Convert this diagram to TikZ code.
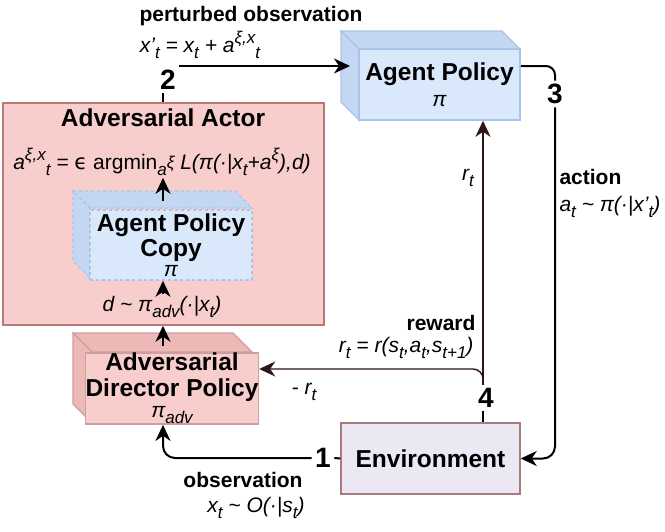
\documentclass[tikz,border=0pt]{standalone}
\usepackage{fontspec}
\setmainfont{Liberation Sans}
\newfontfamily\dvs{DejaVu Sans}
\usetikzlibrary{arrows.meta,calc}

\newcommand{\lbl}{\fontsize{21}{25}\selectfont}
\newcommand{\ttl}{\fontsize{24.5}{22}\selectfont\bfseries}
\newcommand{\numf}{\fontsize{28}{28}\selectfont\bfseries}
\newcommand{\sbs}[1]{\raisebox{-0.3em}{\fontsize{17}{17}\selectfont #1}}
\newcommand{\sps}[1]{\raisebox{0.4em}{\fontsize{17}{17}\selectfont #1}}

\definecolor{redfill}{HTML}{F8CECC}
\definecolor{redside}{HTML}{EDB9B7}
\definecolor{redline}{HTML}{B87878}
\definecolor{bluefill}{HTML}{DAE8FC}
\definecolor{blueside}{HTML}{C3D6F2}
\definecolor{blueline}{HTML}{A9C4EB}
\definecolor{envfill}{HTML}{EBE8F3}
\definecolor{envline}{HTML}{A67C7C}
\definecolor{rewcol}{HTML}{2E1616}

\tikzset{
  ln/.style={line width=2pt, black},
  arr/.style={ln, -{Stealth[length=16pt,width=15pt,inset=5pt]}},
  rewarr/.style={line width=1.4pt, rewcol, -{Stealth[length=16pt,width=15pt,inset=5pt]}},
  front/.style={rectangle, inner sep=0pt, align=center},
}

\begin{document}
\begin{tikzpicture}[x=1pt,y=-1pt]
\useasboundingbox (0,0) rectangle (665,531);
\fill[white] (0,0) rectangle (665,531);

% Adversarial Actor container
\node[front, draw=redline, fill=redfill, line width=1.5pt, minimum width=321pt, minimum height=222pt] (actor) at (163.5,214) {};
\node[font=\ttl] (acttitle) at (163,118) {Adversarial Actor};
\node[font=\lbl\itshape, inner sep=2pt] (formula) at (162,162) {a\sps{ξ,x}\sbs{t} = \textup{{\dvs ϵ} argmin}\sbs{a\sps{ξ}} L(π(·|x\sbs{t}+a\sps{ξ}),d)};

% Agent Policy cube
\fill[blueside, draw=blueline, line width=1.2pt] (359,49) -- (341,31) -- (502,31) -- (520,49) -- cycle;
\fill[blueside, draw=blueline, line width=1.2pt] (359,49) -- (341,31) -- (341,102) -- (359,120) -- cycle;
\node[front, draw=blueline, fill=bluefill, line width=1.5pt, minimum width=161pt, minimum height=71pt, font=\lbl] (agent) at (439.5,84.5) {{\ttl Agent Policy}\\[1pt]{\itshape π}};

% Agent Policy Copy cube (dashed)
\fill[blueside, draw=blueline, line width=1.2pt, dashed] (90,208) -- (73,191) -- (235,191) -- (252,208) -- cycle;
\fill[blueside, draw=blueline, line width=1.2pt, dashed] (90,208) -- (73,191) -- (73,261) -- (90,278) -- cycle;
\node[front, draw=blueline, fill=bluefill, line width=1.5pt, dashed, minimum width=162pt, minimum height=70pt, font=\lbl] (copy) at (171,245) {{\ttl Agent Policy}\\{\ttl Copy}\\[-5pt]{\itshape π}};

% Adversarial Director Policy cube
\fill[redside, draw=redline!70, line width=1.2pt] (92,352) -- (73,333) -- (233,333) -- (252,352) -- cycle;
\fill[redside, draw=redline!70, line width=1.2pt] (92,352) -- (73,333) -- (73,404) -- (92,423) -- cycle;
\node[front, draw=redline!70, fill=redfill, line width=1.5pt, minimum width=160pt, minimum height=71pt, font=\lbl] (dir) at (172,388.5) {{\ttl Adversarial}\\[1pt]{\ttl Director Policy}\\[-4pt]{\itshape π\sbs{adv}}};

% Environment
\node[front, draw=envline, fill=envfill, line width=1.5pt, minimum width=179pt, minimum height=71pt, font=\ttl] (env) at (430.5,458.5) {Environment};

% numbers
\node[font=\numf] (two) at (168,80) {2};
\node[font=\numf] (three) at (555,94) {3};
\node[font=\numf] (four) at (486,398) {4};
\node[font=\numf] (one) at (323,458) {1};

% labels
\node[font=\lbl\bfseries] (pertl) at (251,16) {perturbed observation};
\node[font=\lbl\itshape] (pertf) at (200,45) {x'\sbs{t} = x\sbs{t} + a\sps{ξ,x}\sbs{t}};
\node[font=\lbl\bfseries, anchor=east] (rewl) at (479,323) {reward};
\node[font=\lbl\itshape, anchor=east] (rewf) at (477,348) {r\sbs{t} = r(s\sbs{t},a\sbs{t},s\sbs{t+1})};
\node[font=\lbl\itshape] (negr) at (304,392) {- r\sbs{t}};
\node[font=\lbl\itshape] (rtl) at (468,178) {r\sbs{t}};
\node[font=\lbl\bfseries, anchor=west] (actl) at (556,177) {action};
\node[font=\lbl\itshape, anchor=west] (actf) at (556,207) {a\sbs{t} \textasciitilde\ π(·|x'\sbs{t})};
\node[font=\lbl\bfseries] (obsl) at (243,480) {observation};
\node[font=\lbl\itshape] (obsf) at (256,508) {x\sbs{t} \textasciitilde\ O(·|s\sbs{t})};
\node[font=\lbl\itshape, inner sep=2pt] (dlab) at (162,307) {d \textasciitilde\ π\sbs{adv}(·|x\sbs{t})};

% connectors
\coordinate (cx) at (163,0);
\coordinate (apin) at (350,66);
\coordinate (rj) at (483,369);

\draw[ln] (two.south -| cx) -- (actor.north -| cx);
\draw[arr] (two.north east |- apin) -- (apin);

\draw[ln, rounded corners=9pt] (agent.east |- apin) -| (three.north);
\draw[arr, rounded corners=12pt] (three.south) |- (env.east);

\draw[arr] ($(copy.north -| cx)+(0,-8)$) -- (formula.south -| cx);
\draw[arr] (dlab.north -| cx) -- (copy.south -| cx);
\draw[arr] ($(dir.north -| cx)+(0,-6)$) -- (actor.south -| cx);

\draw[ln] (one.east) -- (env.west);
\draw[arr, rounded corners=12pt] (one.west) -| (dir.south -| cx);

\draw[rewarr] (four.north -| rj) -- (agent.south -| rj);
\draw[rewarr, rounded corners=10pt] (four.north -| rj) |- (dir.east |- rj);
\draw[ln] (four.south -| rj) -- (env.north -| rj);
\end{tikzpicture}
\end{document}
